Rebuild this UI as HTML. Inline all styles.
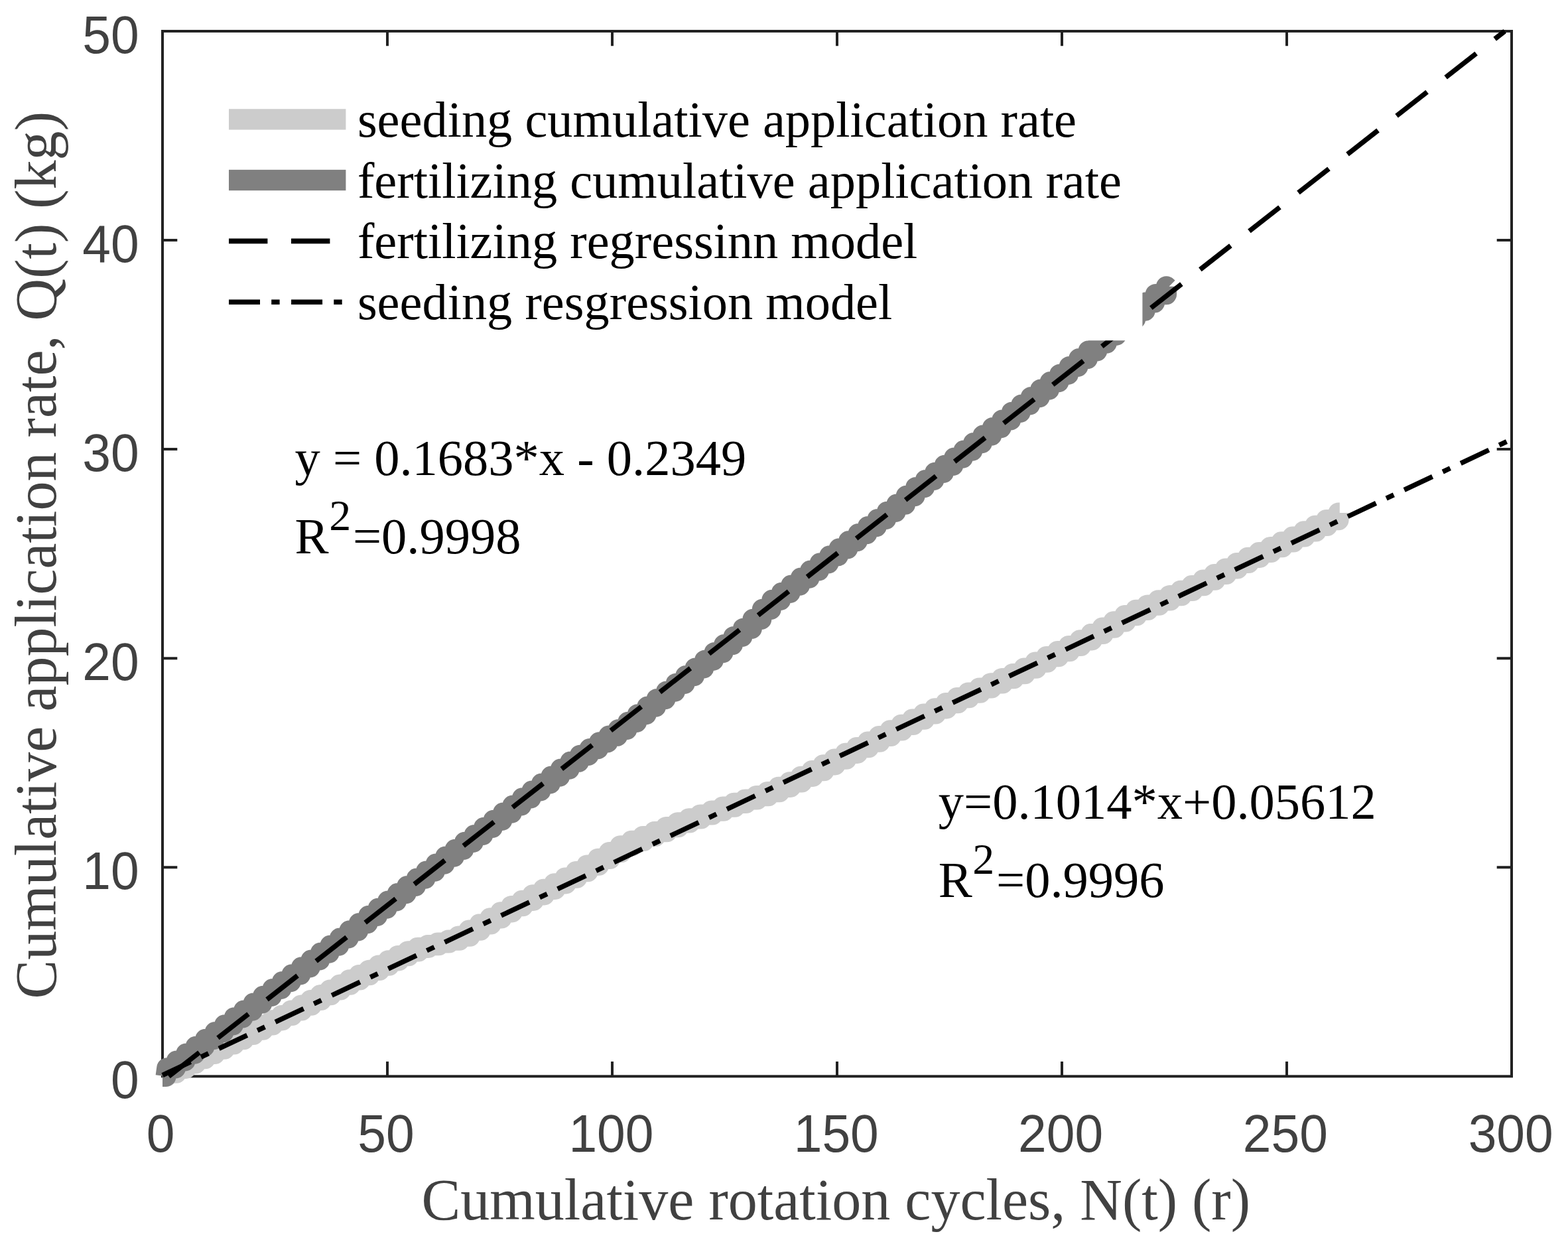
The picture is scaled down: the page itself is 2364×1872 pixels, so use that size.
<!DOCTYPE html>
<html lang="en">
<head>
<meta charset="utf-8">
<title>Cumulative application rate vs cumulative rotation cycles</title>
<style>
html,body{margin:0;padding:0;background:#fff;}
body{width:2364px;height:1872px;overflow:hidden;}
svg{display:block;}
.tick{font-family:"Liberation Sans", Arial, Helvetica, sans-serif;font-size:79.0px;fill:#414141;}
.lab{font-family:"Liberation Serif", "Times New Roman", Times, serif;font-size:88.05px;fill:#414141;}
.leg{font-family:"Liberation Serif", "Times New Roman", Times, serif;font-size:76.41px;fill:#000;}
.ann{font-family:"Liberation Serif", "Times New Roman", Times, serif;font-size:76.5px;fill:#000;}
.sup{font-size:66px;}
</style>
</head>
<body>
<svg xmlns="http://www.w3.org/2000/svg" width="2364" height="1872" viewBox="0 0 2364 1872">
<rect x="0" y="0" width="2364" height="1872" fill="#ffffff"/>
<g id="axes" stroke="#222222" stroke-width="4.0" fill="none" stroke-linecap="butt">
<rect x="245.0" y="47.0" width="2034.0" height="1575.30"/>
<path d="M584.00 1622.30v-22.3M584.00 47.00v22.3M923.00 1622.30v-22.3M923.00 47.00v22.3M1262.00 1622.30v-22.3M1262.00 47.00v22.3M1601.00 1622.30v-22.3M1601.00 47.00v22.3M1940.00 1622.30v-22.3M1940.00 47.00v22.3M245.00 1307.24h22.3M2279.00 1307.24h-22.3M245.00 992.18h22.3M2279.00 992.18h-22.3M245.00 677.12h22.3M2279.00 677.12h-22.3M245.00 362.06h22.3M2279.00 362.06h-22.3"/>
</g>
<g id="data" fill="none" stroke-width="31.2" stroke-linejoin="round" stroke-linecap="butt">
<clipPath id="cs"><rect x="245.0" y="0" width="2119.0" height="1872"/></clipPath>
<path id="seeding-data" clip-path="url(#cs)" stroke="#cccccc" d="M245.00 1622.30H251.3L249.8 1617.1H265.8L264.3 1610.3H280.3L278.8 1603.0H294.8L293.3 1595.7H309.3L307.8 1588.5H323.8L322.3 1581.2H338.4L336.9 1573.9H352.9L351.4 1566.7H367.5L366.0 1559.4H382.0L380.5 1552.2H396.6L395.1 1545.0H411.2L409.7 1537.8H425.8L424.3 1530.5H440.4L438.9 1523.0H455.0L453.5 1515.2H469.6L468.1 1507.5H484.2L482.7 1499.7H498.8L497.3 1492.0H513.5L512.0 1484.2H528.1L526.6 1476.9H542.7L541.2 1469.6H557.4L555.9 1462.4H572.1L570.6 1455.1H586.7L585.2 1447.8H601.4L599.9 1440.6H616.1L614.6 1433.9H631.0L629.5 1428.3H646.1L644.6 1424.6H661.4L659.9 1421.0H676.9L675.4 1417.2H692.6L691.1 1411.1H708.4L706.9 1402.1H724.3L722.8 1393.0H740.2L738.7 1383.9H756.1L754.6 1374.8H772.2L770.7 1365.7H788.3L786.8 1357.3H804.4L802.9 1348.8H820.7L819.2 1340.3H837.0L835.5 1331.8H853.3L851.8 1323.2H869.7L868.2 1313.7H886.2L884.7 1304.1H902.8L901.3 1294.4H919.6L918.1 1284.7H936.5L935.0 1274.8H953.5L952.0 1267.4H970.7L969.2 1260.5H988.1L986.6 1253.6H1005.4L1003.9 1246.7H1022.7L1021.2 1239.9H1039.9L1038.4 1233.9H1057.0L1055.5 1228.0H1074.1L1072.6 1222.1H1091.0L1089.5 1216.2H1107.9L1106.4 1210.4H1124.7L1123.2 1205.0H1141.5L1140.0 1199.7H1158.3L1156.8 1193.7H1175.1L1173.6 1186.3H1191.9L1190.4 1178.9H1208.7L1207.2 1170.3H1225.6L1224.1 1161.6H1242.4L1240.9 1152.8H1259.2L1257.7 1144.1H1276.0L1274.5 1135.3H1292.8L1291.3 1126.7H1309.6L1308.1 1118.1H1326.5L1325.0 1109.5H1343.3L1341.8 1100.9H1360.1L1358.6 1092.4H1376.9L1375.4 1084.1H1393.8L1392.3 1076.0H1410.6L1409.1 1067.8H1427.4L1425.9 1059.7H1444.3L1442.8 1051.6H1461.1L1459.6 1044.1H1477.9L1476.4 1037.0H1494.8L1493.3 1029.9H1511.6L1510.1 1022.7H1528.5L1527.0 1015.6H1545.3L1543.8 1007.2H1562.2L1560.7 998.1H1579.0L1577.5 989.7H1595.9L1594.4 981.6H1612.7L1611.2 973.5H1629.6L1628.1 964.8H1646.4L1644.9 955.5H1663.3L1661.8 946.2H1680.2L1678.7 936.9H1697.0L1695.5 927.6H1713.9L1712.4 919.4H1730.8L1729.3 912.2H1747.6L1746.1 904.9H1764.5L1763.0 897.7H1781.4L1779.9 890.4H1798.2L1796.7 882.6H1815.1L1813.6 874.1H1832.0L1830.5 865.5H1848.9L1847.4 857.0H1865.8L1864.3 848.5H1882.6L1881.1 840.3H1899.5L1898.0 832.5H1916.4L1914.9 824.7H1933.3L1931.8 816.9H1950.2L1948.7 809.0H1967.1L1965.6 800.9H1984.0L1982.5 792.4H2000.9L1999.4 783.7H2018V773h1.8"/>
<path id="fertilizing-data" stroke="#808080" d="M245.00 1622.30H250.1L251.8 1609.8H264.5L266.2 1599.0H279.0L280.7 1588.1H293.5L295.2 1577.3H308.0L309.7 1566.4H322.5L324.2 1555.6H336.9L338.6 1544.8H351.4L353.1 1533.9H365.9L367.6 1523.1H380.4L382.1 1512.2H394.9L396.6 1501.4H409.3L411.0 1490.5H423.8L425.5 1479.7H438.3L440.0 1468.8H452.8L454.5 1457.9H467.3L469.0 1447.0H481.7L483.4 1436.1H496.2L497.9 1425.1H510.7L512.4 1414.0H525.2L526.9 1402.8H539.7L541.4 1391.6H554.1L555.8 1380.4H568.6L570.3 1369.2H583.1L584.8 1358.0H597.6L599.3 1346.7H612.1L613.8 1335.5H626.5L628.2 1324.2H641.0L642.7 1313.1H655.5L657.2 1302.2H670.0L671.7 1291.2H684.5L686.2 1280.3H698.9L700.6 1269.4H713.4L715.1 1258.5H727.9L729.6 1247.4H742.4L744.1 1236.3H756.9L758.6 1225.2H771.3L773.0 1214.0H785.8L787.5 1202.9H800.3L802.0 1192.0H814.8L816.5 1181.0H829.3L831.0 1170.1H843.7L845.4 1159.1H858.2L859.9 1148.2H872.7L874.4 1138.3H887.2L888.9 1128.6H901.7L903.4 1118.9H916.1L917.8 1109.2H930.6L932.3 1099.5H945.1L946.8 1088.4H959.6L961.3 1076.8H974.1L975.8 1065.2H988.5L990.2 1053.6H1003.0L1004.7 1042.1H1017.5L1019.2 1030.4H1032.0L1033.7 1018.7H1046.5L1048.2 1007.0H1060.9L1062.6 995.3H1075.4L1077.1 983.6H1089.9L1091.6 971.7H1104.4L1106.1 959.5H1118.8L1120.5 947.3H1133.3L1135.0 933.4H1147.7L1149.4 918.4H1162.2L1163.9 904.4H1176.7L1178.4 893.3H1191.1L1192.8 882.2H1205.6L1207.3 871.1H1220.0L1221.7 860.0H1234.5L1236.2 848.9H1249.0L1250.7 837.8H1263.4L1265.1 826.8H1277.9L1279.6 815.7H1292.3L1294.0 804.6H1306.8L1308.5 793.6H1321.3L1323.0 782.5H1335.7L1337.4 771.3H1350.2L1351.9 760.2H1364.6L1366.3 747.4H1379.1L1380.8 734.6H1393.6L1395.3 723.5H1408.0L1409.7 712.4H1422.5L1424.2 701.3H1436.9L1438.6 690.2H1451.4L1453.1 679.1H1465.9L1467.6 667.7H1480.3L1482.0 656.2H1494.8L1496.5 644.6H1509.2L1510.9 633.0H1523.7L1525.4 621.4H1538.2L1539.9 610.0H1552.6L1554.3 598.6H1567.1L1568.8 587.1H1581.5L1583.2 575.7H1596.0L1597.7 564.3H1610.5L1612.2 552.5H1624.9L1626.6 540.7H1639.4L1641.1 528.9H1653.8L1655.5 517.1H1668.3L1670.0 505.3H1682.8L1684.5 493.1H1697.2L1698.9 480.7H1711.7L1713.4 468.3H1726.1L1727.8 455.9H1740.6L1742.3 443.6H1758.5V431.8l2 2"/>
</g>
<g id="regression" stroke="#000" stroke-width="7.4" fill="none" stroke-linecap="butt">
<path d="M254.46 1622.30L2268.72 47.00" stroke-dasharray="58.4 35.6"/>
<path d="M245.00 1620.53L2279.00 662.12" stroke-dasharray="47 17.2 12.4 17.47"/>
</g>
<g id="legend">
<rect x="323" y="134" width="1399.4" height="379.2" fill="#ffffff"/>
<rect x="345" y="164.25" width="176.4" height="31.3" fill="#cccccc"/>
<rect x="345" y="255.85" width="176.4" height="31.3" fill="#808080"/>
<path d="M345 363.4H521.4" stroke="#000" stroke-width="7.6" stroke-dasharray="58.4 35.6" fill="none"/>
<path d="M345 455.2H521.4" stroke="#000" stroke-width="7.6" stroke-dasharray="47 17.2 12.4 17.47" fill="none"/>
<text class="leg" x="538.9" y="205.8">seeding cumulative application rate</text>
<text class="leg" x="538.9" y="297.6">fertilizing cumulative application rate</text>
<text class="leg" x="538.9" y="389.2">fertilizing regressinn model</text>
<text class="leg" x="538.9" y="480.8">seeding resgression model</text>
</g>
<text class="ann" x="444.6" y="716.2" xml:space="preserve">y = 0.1683*x - 0.2349</text>
<text class="ann" x="444.6" y="834.3">R<tspan class="sup" dx="0.5" dy="-34.9">2</tspan><tspan dx="2.75" dy="34.9">=0.9998</tspan></text>
<text class="ann" x="1414.8" y="1234.4" xml:space="preserve">y=0.1014*x+0.05612</text>
<text class="ann" x="1414.8" y="1351.9">R<tspan class="sup" dx="0.5" dy="-34.9">2</tspan><tspan dx="2.75" dy="34.9">=0.9996</tspan></text>
<g id="xticklabels" class="tick" text-anchor="middle">
<text transform="translate(242.00 1736.2) scale(0.972 1)">0</text>
<text transform="translate(581.90 1736.2) scale(0.972 1)">50</text>
<text transform="translate(921.45 1736.2) scale(0.972 1)">100</text>
<text transform="translate(1260.75 1736.2) scale(0.972 1)">150</text>
<text transform="translate(1599.13 1736.2) scale(0.972 1)">200</text>
<text transform="translate(1937.80 1736.2) scale(0.972 1)">250</text>
<text transform="translate(2277.70 1736.2) scale(0.972 1)">300</text>
</g>
<g id="yticklabels" class="tick" text-anchor="end">
<text transform="translate(209.6 1655.30) scale(0.972 1)">0</text>
<text transform="translate(209.6 1340.24) scale(0.972 1)">10</text>
<text transform="translate(209.6 1025.18) scale(0.972 1)">20</text>
<text transform="translate(209.6 710.12) scale(0.972 1)">30</text>
<text transform="translate(209.6 395.06) scale(0.972 1)">40</text>
<text transform="translate(209.6 80.00) scale(0.972 1)">50</text>
</g>
<text class="lab" text-anchor="middle" x="1260.3" y="1837.9">Cumulative rotation cycles, N(t) (r)</text>
<text class="lab" text-anchor="middle" transform="translate(83.5 836.75) rotate(-90)">Cumulative application rate, Q(t) (kg)</text>
</svg>
</body>
</html>
